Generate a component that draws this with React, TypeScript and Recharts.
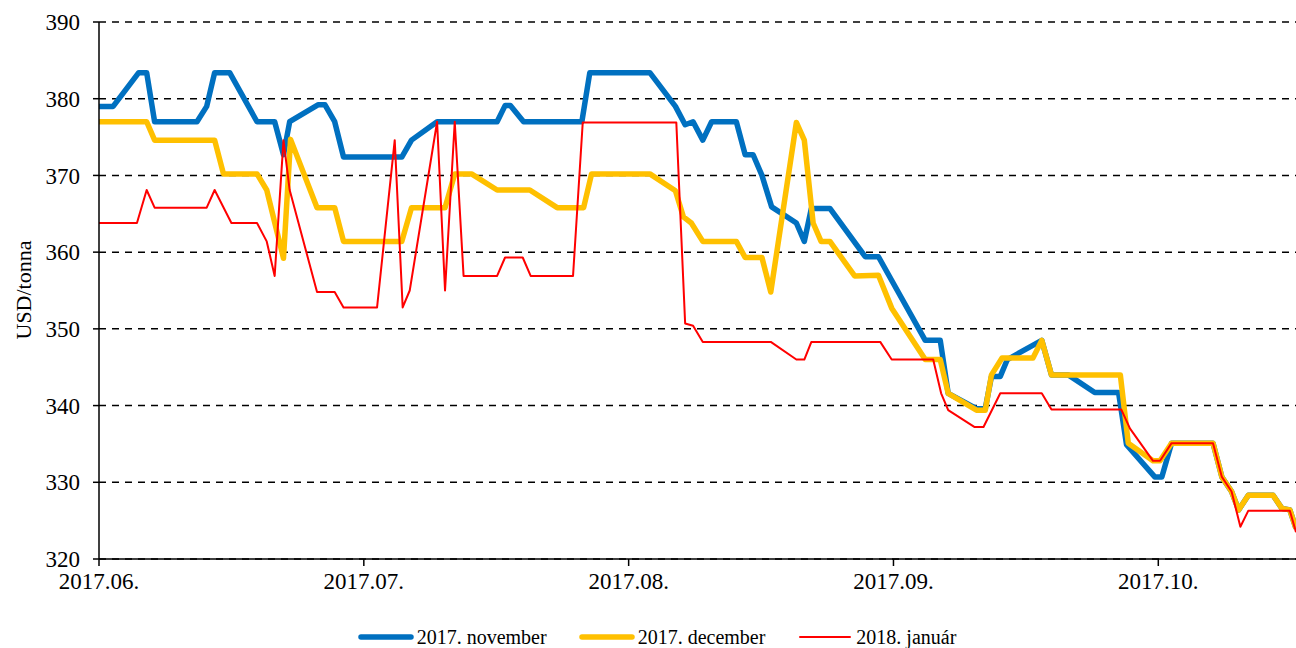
import { LineChart, Line, XAxis, YAxis, CartesianGrid, Legend } from 'recharts';

const FONT = '"Liberation Serif", "Times New Roman", serif';

// x is a day-like index: each month is 30 units, 2017.06. = 0
const monthTicks = [0, 30, 60, 90, 120];
const monthLabels = ['2017.06.', '2017.07.', '2017.08.', '2017.09.', '2017.10.'];
const yTicks = [320, 330, 340, 350, 360, 370, 380, 390];
const seriesNames = ['2017. november', '2017. december', '2018. január'];

const novX = [0, 1.6, 4.5, 5.4, 6.3, 11.1, 12.2, 13.1, 14.8, 17.9, 19.9, 20.9, 21.6, 24.8, 25.6, 26.7, 27.7, 34.3, 35.4, 38.3, 45.1, 46.0, 46.6, 48.1, 54.7, 55.6, 62.4, 65.3, 66.4, 67.3, 68.4, 69.4, 72.2, 73.2, 74.1, 75.1, 76.2, 79.0, 79.9, 80.7, 82.8, 86.8, 88.3, 93.6, 95.3, 96.2, 99.4, 100.4, 101.1, 102.1, 102.9, 106.8, 107.9, 109.8, 112.8, 115.5, 116.4, 119.6, 120.4, 121.5, 126.2, 127.2, 128.3, 129.1, 130.2, 133.0, 134.0, 134.9, 135.6];
const novY = [379.0, 379.0, 383.4, 383.4, 377.0, 377.0, 379.0, 383.4, 383.4, 377.0, 377.0, 372.7, 377.0, 379.2, 379.2, 377.0, 372.4, 372.4, 374.6, 377.0, 377.0, 379.1, 379.1, 377.0, 377.0, 383.4, 383.4, 379.0, 376.6, 377.0, 374.6, 377.0, 377.0, 372.7, 372.7, 370.0, 365.9, 363.8, 361.4, 365.7, 365.7, 359.4, 359.4, 348.5, 348.5, 341.6, 339.6, 339.6, 343.8, 343.8, 346.0, 348.5, 344.0, 344.0, 341.7, 341.7, 334.9, 330.7, 330.7, 335.1, 335.1, 330.7, 328.8, 326.4, 328.3, 328.3, 326.6, 326.4, 324.0];

const decX = [0, 5.4, 6.3, 13.1, 14.1, 17.9, 19.0, 20.9, 21.7, 24.7, 26.7, 27.7, 34.3, 35.4, 39.2, 40.3, 42.2, 45.1, 48.8, 51.9, 54.9, 55.8, 62.4, 65.3, 66.2, 67.1, 68.4, 72.2, 73.2, 75.1, 76.1, 79.0, 79.9, 80.9, 81.8, 82.8, 85.6, 88.3, 89.8, 93.6, 95.3, 96.2, 99.4, 100.4, 101.1, 102.3, 105.8, 106.8, 107.9, 115.7, 116.6, 119.4, 120.2, 121.5, 126.2, 127.2, 128.3, 129.1, 130.2, 133.0, 134.0, 134.9, 135.6];
const decY = [377.0, 377.0, 374.6, 374.6, 370.2, 370.2, 368.1, 359.2, 374.7, 365.8, 365.8, 361.4, 361.4, 365.8, 365.8, 370.2, 370.2, 368.1, 368.1, 365.8, 365.8, 370.2, 370.2, 368.0, 364.6, 363.8, 361.4, 361.4, 359.3, 359.3, 354.8, 376.9, 374.6, 363.8, 361.4, 361.4, 356.9, 357.0, 352.7, 346.0, 346.0, 341.6, 339.4, 339.4, 344.0, 346.2, 346.2, 348.5, 344.0, 344.0, 335.1, 332.8, 332.8, 335.1, 335.1, 330.7, 328.8, 326.4, 328.3, 328.3, 326.6, 326.4, 324.0];

const janX = [0, 4.3, 5.4, 6.3, 12.2, 13.1, 15.0, 17.9, 19.0, 19.9, 20.9, 21.6, 24.7, 26.7, 27.7, 31.5, 33.5, 34.4, 35.2, 38.3, 39.2, 40.3, 41.3, 45.1, 46.0, 48.0, 48.9, 53.7, 54.8, 65.4, 66.4, 67.3, 68.4, 76.1, 79.0, 79.9, 80.7, 88.5, 89.8, 94.5, 95.4, 96.2, 99.2, 100.2, 102.1, 106.8, 107.9, 115.8, 116.8, 119.4, 120.2, 121.5, 126.2, 127.2, 128.3, 129.3, 130.2, 134.9, 135.6];
const janY = [363.8, 363.8, 368.1, 365.8, 365.8, 368.1, 363.8, 363.8, 361.4, 356.9, 374.6, 368.1, 354.8, 354.8, 352.8, 352.8, 374.6, 352.8, 355.0, 377.0, 355.0, 377.0, 356.9, 356.9, 359.3, 359.3, 356.9, 356.9, 376.9, 376.9, 350.7, 350.4, 348.3, 348.3, 346.0, 346.0, 348.3, 348.3, 346.0, 346.0, 341.6, 339.4, 337.2, 337.2, 341.6, 341.6, 339.5, 339.5, 337.0, 332.8, 332.8, 335.1, 335.1, 330.7, 328.8, 324.2, 326.3, 326.3, 323.5];

const toPoints = (xs: number[], ys: number[]) => xs.map((x, i) => ({ x, v: ys[i] }));

const series = [
  { name: seriesNames[0], color: '#0070C0', width: 5.5, data: toPoints(novX, novY) },
  { name: seriesNames[1], color: '#FFC000', width: 5.5, data: toPoints(decX, decY) },
  { name: seriesNames[2], color: '#FF0000', width: 2, data: toPoints(janX, janY) },
];

function ChartLegend() {
  return (
    <div
      style={{
        display: 'flex',
        justifyContent: 'center',
        alignItems: 'center',
        height: 22,
        paddingLeft: 18,
        fontFamily: FONT,
        fontSize: 20,
        color: '#000',
      }}
    >
      {series.map(s => (
        <div key={s.name} style={{ display: 'flex', alignItems: 'center', margin: '0 16px' }}>
          <svg width={56} height={10}>
            <line x1={3} y1={5} x2={53} y2={5} stroke={s.color} strokeWidth={s.width} strokeLinecap="round" />
          </svg>
          <span style={{ marginLeft: 3 }}>{s.name}</span>
        </div>
      ))}
    </div>
  );
}

const AxisTitle = () => (
  <text
    x={23}
    y={290}
    transform="rotate(-90 23 290)"
    textAnchor="middle"
    dominantBaseline="central"
    fontFamily={FONT}
    fontSize={22}
    fill="#000"
  >
    USD/tonna
  </text>
);

export default function App() {
  return (
    <div style={{ position: 'absolute', left: 0, top: 0, width: 1296, height: 648, background: '#fff' }}>
      <LineChart width={1296} height={648} margin={{ top: 22, right: 0, left: 0, bottom: 0 }}>
        <CartesianGrid vertical={false} stroke="#000" strokeWidth={1.5} strokeDasharray="7 6" />
        <XAxis
          dataKey="x"
          type="number"
          domain={[0, 135.6]}
          ticks={monthTicks}
          allowDataOverflow
          tickFormatter={(v: number) => monthLabels[monthTicks.indexOf(v)]}
          height={67}
          tickSize={7}
          tickMargin={7}
          stroke="#000"
          strokeWidth={1.5}
          tick={{ fill: '#000', fontSize: 23, fontFamily: FONT }}
        />
        <YAxis
          type="number"
          domain={[320, 390]}
          ticks={yTicks}
          width={99}
          tickSize={6}
          tickMargin={13}
          stroke="#000"
          strokeWidth={1.5}
          tick={{ fill: '#000', fontSize: 23, fontFamily: FONT }}
          label={<AxisTitle />}
        />
        <Legend verticalAlign="bottom" content={<ChartLegend />} />
        {series.map(s => (
          <Line
            key={s.name}
            data={s.data}
            dataKey="v"
            name={s.name}
            type="linear"
            stroke={s.color}
            strokeWidth={s.width}
            strokeLinejoin="round"
            dot={false}
            activeDot={false}
            isAnimationActive={false}
          />
        ))}
      </LineChart>
    </div>
  );
}
